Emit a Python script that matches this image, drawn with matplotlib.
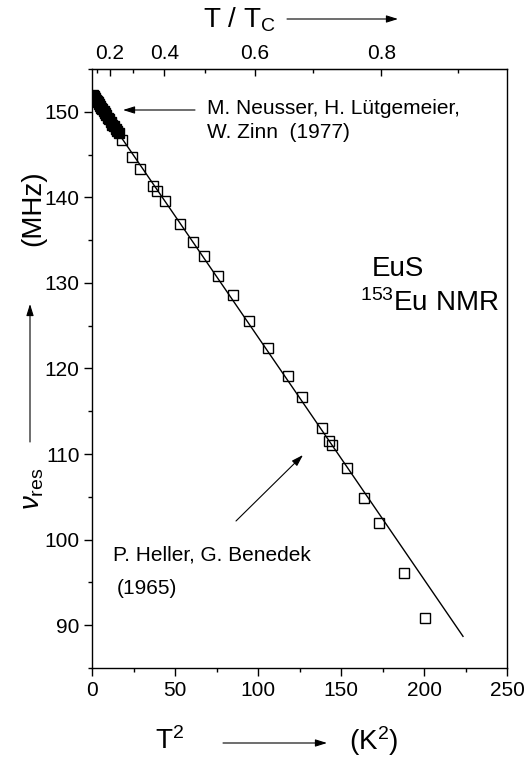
import numpy as np
import matplotlib
matplotlib.use("Agg")
import matplotlib.pyplot as plt
from matplotlib.patches import FancyArrowPatch

plt.rcParams['font.family'] = ['Liberation Sans', 'DejaVu Sans']
plt.rcParams['mathtext.fontset'] = 'custom'
plt.rcParams['mathtext.rm'] = 'Liberation Sans'
plt.rcParams['mathtext.it'] = 'Liberation Sans:italic'
plt.rcParams['mathtext.bf'] = 'Liberation Sans:bold'

# Neusser, Lütgemeier, Zinn (1977): T^2 in K^2, resonance frequency in MHz
t2_neusser = [0.5, 1.0, 1.5, 2.0, 2.5, 3.0, 3.6, 4.2, 4.8, 5.5, 6.2, 7.0,
              7.8, 8.6, 9.5, 10.4, 11.3, 12.2, 13.2, 14.2, 15.2, 16.0]
nu_neusser = [152.0, 151.9, 151.7, 151.6, 151.4, 151.3, 151.1, 150.9, 150.7,
              150.5, 150.3, 150.1, 149.8, 149.6, 149.3, 149.1, 148.8, 148.5,
              148.3, 148.0, 147.7, 147.5]

# Heller, Benedek (1965)
t2_heller = [17.9, 23.9, 28.9, 36.6, 39.3, 44.0, 53.0, 61.0, 67.7, 76.1,
             85.1, 94.8, 106.2, 117.9, 126.3, 138.4, 142.9, 144.4, 153.4,
             164.0, 172.9, 188.1, 200.6]
nu_heller = [146.7, 144.7, 143.3, 141.35, 140.7, 139.6, 136.9, 134.8, 133.1,
             130.8, 128.55, 125.55, 122.4, 119.1, 116.7, 113.1, 111.5, 111.1,
             108.4, 104.9, 101.9, 96.15, 90.8]

# T^2 law fit line
fit_t2 = [0.0, 223.5]
fit_nu = [152.0, 88.7]

T_C = 16.5  # Curie temperature of EuS (K)
top_ticks = [0.2, 0.4, 0.6, 0.8]
top_minor = [0.1, 0.3, 0.5, 0.7, 0.9]

W, H = 526, 759
fig = plt.figure(figsize=(W / 100, H / 100), dpi=100)
ax = fig.add_axes([92 / W, 1 - 668 / H, 415 / W, 599 / H])

ax.plot(fit_t2, fit_nu, color='black', lw=1.0, zorder=2)
ax.plot(t2_heller, nu_heller, ls='none', marker='s', ms=7, mfc='none',
        mec='black', mew=1.0, zorder=3)
ax.plot(t2_neusser, nu_neusser, ls='none', marker='s', ms=7, mfc='black',
        mec='black', mew=1.0, zorder=4)

ax.set_xlim(0, 250)
ax.set_ylim(85, 155)
ax.set_xticks(np.arange(0, 251, 50))
ax.set_xticks(np.arange(0, 251, 25), minor=True)
ax.set_yticks(np.arange(90, 151, 10))
ax.set_yticks(np.arange(85, 156, 5), minor=True)
ax.tick_params(axis='both', which='major', direction='out', length=6,
               width=1, labelsize=15, pad=3)
ax.tick_params(axis='both', which='minor', direction='out', length=3, width=1)
for s in ax.spines.values():
    s.set_linewidth(1.0)


def to_ratio(x):
    return np.sqrt(np.clip(x, 0, None)) / T_C


def to_t2(r):
    return (np.asarray(r) * T_C) ** 2


sec = ax.secondary_xaxis('top', functions=(to_ratio, to_t2))
sec.set_xticks(top_ticks)
sec.set_xticklabels([f"{t:.1f}" for t in top_ticks])
sec.set_xticks(top_minor, minor=True)
sec.tick_params(which='major', direction='in', length=5, width=1,
                labelsize=15, pad=4)
sec.tick_params(which='minor', direction='in', length=3, width=1)


def fx(px):
    return px / W


def fy(py):
    return 1 - py / H


def fig_arrow(x0, y0, x1, y1):
    fig.add_artist(FancyArrowPatch(
        (fx(x0), fy(y0)), (fx(x1), fy(y1)), transform=fig.transFigure,
        arrowstyle='-|>,head_length=0.7,head_width=0.22', mutation_scale=10,
        color='black', lw=0.8, shrinkA=0, shrinkB=0))


# bottom axis label
fig.text(fx(170), fy(741), r'T$^\mathregular{2}$', fontsize=20,
         ha='center', va='center')
fig.text(fx(374), fy(741), r'(K$^\mathregular{2}$)', fontsize=20,
         ha='center', va='center')
fig_arrow(223, 743, 327, 743)

# top axis label
fig.text(fx(239), fy(20), r'T / T$_\mathregular{C}$', fontsize=20,
         ha='center', va='center')
fig_arrow(287, 19, 398, 19)

# left axis label
fig.text(fx(33), fy(208), '(MHz)', fontsize=20, rotation=90,
         ha='center', va='center')
fig_arrow(30, 442, 30, 304)
fig.text(fx(33), fy(489), r'$\nu_\mathregular{res}$', fontsize=20,
         rotation=90, ha='center', va='center')

# annotations
fig.text(fx(207), fy(108), 'M. Neusser, H. Lütgemeier,', fontsize=15,
         ha='left', va='center')
fig.text(fx(207), fy(133), 'W. Zinn  (1977)', fontsize=15,
         ha='left', va='center')
fig_arrow(195, 110, 123, 110)

fig.text(fx(113), fy(555), 'P. Heller, G. Benedek', fontsize=15,
         ha='left', va='center')
fig.text(fx(117), fy(588), '(1965)', fontsize=15, ha='left', va='center')
fig_arrow(236, 521, 303, 455)

fig.text(fx(372), fy(269), 'EuS', fontsize=20, ha='left', va='center')
fig.text(fx(360), fy(303), r'$^\mathregular{153}$Eu NMR', fontsize=20,
         ha='left', va='center')

fig.savefig('out.png', dpi=100)
